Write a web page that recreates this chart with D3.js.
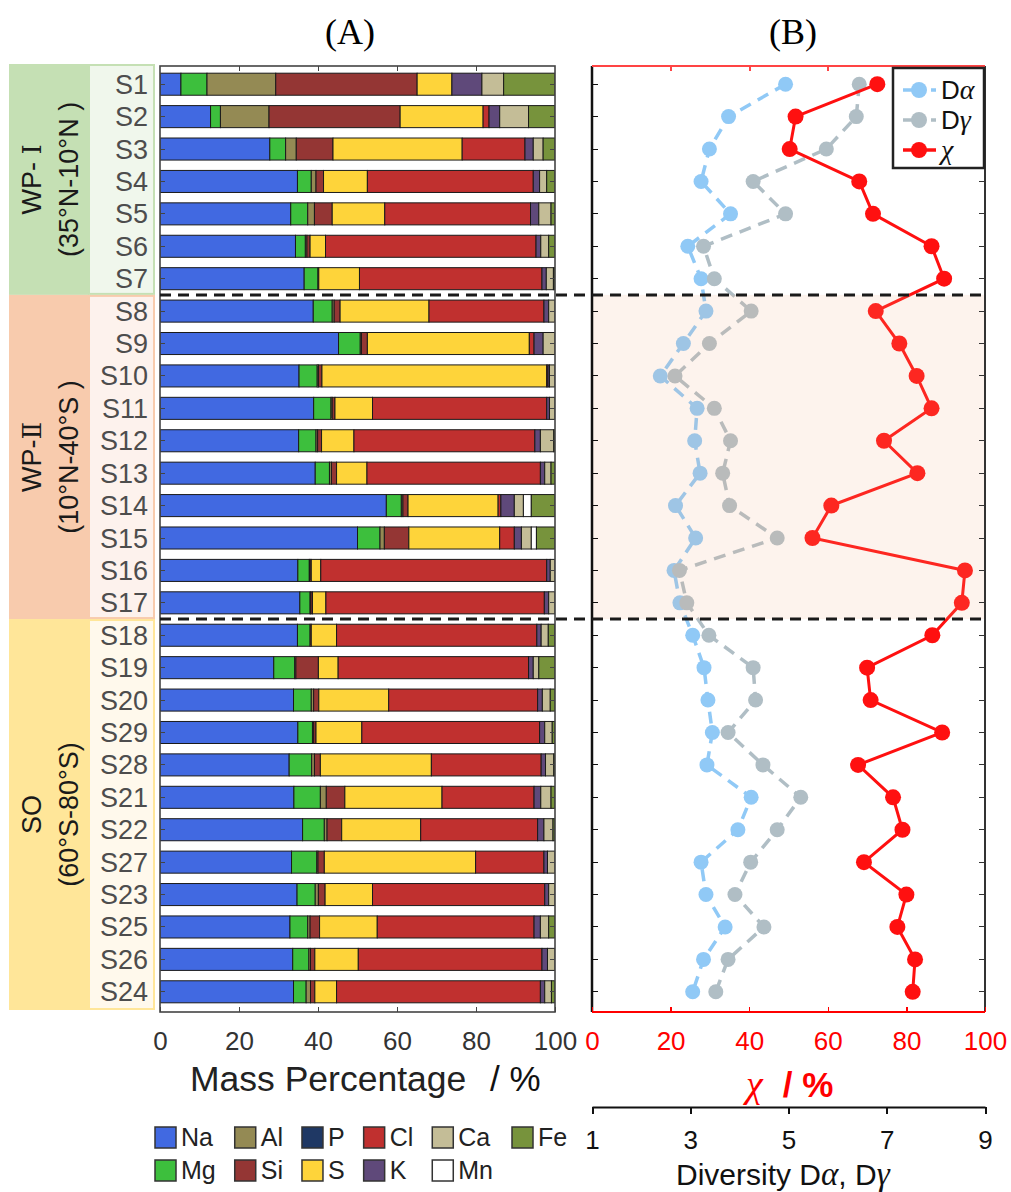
<!DOCTYPE html>
<html lang="en">
<head>
<meta charset="UTF-8">
<title>Mass percentage and diversity</title>
<script src="https://d3js.org/d3.v7.min.js"></script>
<style>
body{margin:0;background:#fff;}
svg{display:block;font-family:"Liberation Sans",Arial,sans-serif;}
.serif{font-family:"Liberation Serif","Times New Roman",serif;}
.roman{font-family:"DejaVu Serif","Noto Sans CJK SC",serif;}
.tick line{shape-rendering:crispEdges;}
</style>
</head>
<body>
<svg id="chart" width="1011" height="1192"></svg>
<script>
// sample order, top to bottom
const samples = ["S1","S2","S3","S4","S5","S6","S7","S8","S9","S10","S11","S12","S13","S14","S15","S16","S17",
  "S18","S19","S20","S29","S28","S21","S22","S27","S23","S25","S26","S24"];

const regionNames = ["WP- ","WP-","SO"];
const regionNumerals = ["Ⅰ","Ⅱ",""];
const regionSubs = ["(35°N-10°N )","(10°N-40°S )","(60°S-80°S)"];
const regionFirst = ["S1","S8","S18"];
const regionLast = ["S7","S17","S24"];

// stacking order (legend is column-major in the same order)
const elements = ["Na","Mg","Al","Si","P","S","Cl","K","Ca","Mn","Fe"];

// mass percentage per element, one value per sample
const Na = [5.3,12.8,27.8,34.8,33.1,34.3,36.5, 38.8,45.2,35.2,38.9,35.1,39.3,57.3,50.0,34.9,35.4, 34.8,28.8,33.8,34.9,32.7,33.9,36.1,33.3,34.7,32.9,33.6,33.8];
const Mg = [6.6,2.5,4.0,3.5,4.3,2.5,3.5, 4.8,5.5,4.6,4.4,4.4,3.6,3.8,5.7,2.9,2.6, 3.2,5.3,4.5,3.7,5.7,6.7,5.5,6.4,4.6,4.5,4.1,3.2];
const Al = [17.4,12.3,2.7,1.2,1.7,0.4,0, 0.5,0.3,0.3,0.3,0.4,0.5,0.4,1.1,0.2,0.2, 0,0.3,0.6,0.3,0.7,1.5,0.7,0.3,0.8,0.6,0.4,1.1];
const Si = [35.8,33.2,9.3,1.9,4.5,0.8,0.2, 1.5,1.5,0.9,0.7,1.0,1.3,1.3,6.2,0.3,0.4, 0.3,5.7,1.3,0.6,1.5,4.7,3.7,1.6,1.7,2.4,1.1,1.1];
const P  = [0,0,0,0,0,0,0, 0,0,0,0,0,0,0,0,0,0, 0,0,0,0,0,0,0,0,0,0,0,0];
const S  = [8.8,21.0,32.7,11.1,13.3,3.9,10.3, 22.5,41.0,56.9,9.5,8.2,7.7,22.8,23.0,2.4,3.4, 6.4,5.0,17.7,11.6,28.1,24.6,20.0,38.3,12.0,14.6,11.0,5.5];
const Cl = [0,1.5,15.9,42.0,36.9,53.3,46.2, 29.1,1.2,0.3,44.1,45.8,43.9,0.7,3.7,57.2,55.3, 50.7,48.2,37.7,45.0,27.8,23.3,29.6,17.3,43.6,39.7,46.5,51.6];
const K  = [7.6,2.7,2.1,1.6,2.1,1.2,1.1, 1.2,2.3,0.4,0.7,1.4,1.1,3.4,1.8,0.9,1.1, 1.1,1.2,1.2,1.3,1.1,1.7,1.6,0.9,1.0,1.6,1.4,1.1];
const Ca = [5.5,7.3,2.5,1.8,3.1,2.0,1.8, 1.6,3.0,1.4,1.4,3.4,1.6,2.3,2.5,1.2,1.6, 1.8,1.4,2.0,1.9,2.1,2.6,2.3,1.9,1.6,2.1,1.9,1.7];
const Mn = [0,0,0,0,0,0,0, 0,0,0,0,0,0,2.0,1.3,0,0, 0,0,0,0,0,0,0,0,0,0,0,0];
const Fe = [13.0,6.7,3.0,2.1,1.0,1.6,0.4, 0,0,0,0,0.3,1.0,6.0,4.7,0,0, 1.6,4.1,1.2,0.7,0.3,1.0,0.5,0,0,1.6,0,0.9];

// panel B
const dAlpha = [4.94,3.78,3.39,3.22,3.82,2.95,3.22, 3.32,2.86,2.39,3.14,3.09,3.20,2.70,3.11,2.67,2.79, 3.05,3.28,3.36,3.45,3.34,4.24,3.97,3.22,3.32,3.71,3.27,3.05];
const dGamma = [6.44,6.38,5.77,4.28,4.94,3.27,3.49, 4.24,3.39,2.69,3.49,3.82,3.66,3.80,4.77,2.78,2.93, 3.38,4.28,4.33,3.77,4.48,5.25,4.77,4.23,3.91,4.50,3.77,3.52];
const chi = [72.6,51.8,50.3,68.0,71.5,86.4,89.6, 72.2,78.2,82.6,86.4,74.3,82.8,60.9,56.1,94.9,94.1, 86.6,70.0,70.9,89.1,67.7,76.6,79.0,69.2,80.0,77.7,82.2,81.6];

const pctTicks = [0,20,40,60,80,100];
const divTicks = [1,3,5,7,9];

// styles
const elementColors = {Na:"#4169e1",Mg:"#3dbf3d",Al:"#948a54",Si:"#943634",P:"#1f3864",S:"#fed43a",
  Cl:"#c0302f",K:"#5f497a",Ca:"#c4bd97",Mn:"#ffffff",Fe:"#77933c"};
const regionBg = ["#c5e0b4","#f8cbad","#ffe699"];
const regionLight = ["#f0f7ec","#fdf2ed","#fff9ec"];
const colAlpha = "#90c9f6", colGamma = "#b0bec5", colChi = "#ff1010";

const svg = d3.select("#chart");
const series = {Na,Mg,Al,Si,P,S,Cl,K,Ca,Mn,Fe};
const rows = samples.map((s,i)=>{
  const r = {sample:s};
  elements.forEach(e=>r[e]=series[e][i]);
  return r;
});

const y = d3.scaleBand().domain(samples).range([68,1008]).paddingInner(0.32).paddingOuter(0.16);
const bw = y.bandwidth();
const yc = s => y(s)+bw/2;
const xA = d3.scaleLinear().domain([0,100]).range([160,555]);
const xChi = d3.scaleLinear().domain([0,100]).range([592,985]);
const xD = d3.scaleLinear().domain([1,9]).range([592,985]);
const yTop = 66, yBot = 1012;

// titles
svg.append("text").attr("class","serif").attr("x",350).attr("y",44).attr("text-anchor","middle")
  .attr("font-size",36).text("(A)");
svg.append("text").attr("class","serif").attr("x",793).attr("y",44).attr("text-anchor","middle")
  .attr("font-size",36).text("(B)");

// region label columns
const bounds = regionFirst.map((f,i)=>{
  const t = i===0 ? 64 : (yc(regionLast[i-1])+yc(f))/2;
  const b = i===regionFirst.length-1 ? 1010 : (yc(regionLast[i])+yc(regionFirst[i+1]))/2;
  return [t,b];
});
const regG = svg.append("g");
bounds.forEach(([t,b],i)=>{
  regG.append("rect").attr("x",9).attr("y",t).attr("width",80).attr("height",b-t).attr("fill",regionBg[i]);
  regG.append("rect").attr("x",89).attr("y",t+1).attr("width",65).attr("height",b-t-2)
    .attr("fill",regionLight[i]).attr("stroke",regionBg[i]).attr("stroke-width",2);
  const cy = (t+b)/2;
  const nm = regG.append("text").attr("transform",`translate(41,${cy}) rotate(-90)`).attr("text-anchor","middle")
    .attr("font-size",27).attr("fill","#1a1a1a");
  nm.append("tspan").text(regionNames[i]);
  if (regionNumerals[i]) nm.append("tspan").attr("class","roman").attr("font-size",26).text(regionNumerals[i]);
  regG.append("text").attr("transform",`translate(78,${cy}) rotate(-90)`).attr("text-anchor","middle")
    .attr("font-size",27).attr("fill","#1a1a1a").text(regionSubs[i]);
});
regG.selectAll("text.samp").data(samples).join("text").attr("class","samp")
  .attr("x",148).attr("y",d=>yc(d)+9.5).attr("text-anchor","end")
  .attr("font-size",27).attr("fill","#4d4d4d").text(d=>d);

// panel A bars
svg.append("clipPath").attr("id","clipA").append("rect")
  .attr("x",160).attr("y",yTop).attr("width",395).attr("height",yBot-yTop);
const stacked = d3.stack().keys(elements)(rows);
svg.append("g").attr("clip-path","url(#clipA)")
  .selectAll("g").data(stacked).join("g").attr("fill",d=>elementColors[d.key])
  .selectAll("rect").data(d=>d.filter(v=>v[1]-v[0]>0)).join("rect")
  .attr("x",v=>xA(v[0])).attr("y",v=>y(v.data.sample))
  .attr("width",v=>xA(v[1])-xA(v[0])).attr("height",bw)
  .attr("stroke","#1a1a1a").attr("stroke-width",1);

// panel A frame and ticks
const gA = svg.append("g").attr("color","#444");
gA.append("rect").attr("x",160).attr("y",yTop).attr("width",395).attr("height",yBot-yTop)
  .attr("fill","none").attr("stroke","#444").attr("stroke-width",1.6);
const axA = gA.append("g").attr("transform",`translate(0,${yBot})`)
  .call(d3.axisBottom(xA).tickValues(pctTicks).tickSizeInner(-5).tickSizeOuter(0));
axA.select(".domain").remove();
axA.selectAll("text").attr("y",38).attr("dy",0).attr("font-size",26).attr("fill","#333")
  .attr("font-family","Liberation Sans, Arial, sans-serif");
gA.append("g").attr("transform",`translate(0,${yTop})`)
  .call(d3.axisTop(xA).tickValues([20,40,60,80]).tickSize(-5).tickFormat(""))
  .select(".domain").remove();
gA.append("g").attr("transform","translate(160,0)")
  .call(d3.axisLeft(y).tickSize(-5).tickFormat("")).select(".domain").remove();
gA.append("g").attr("transform","translate(555,0)")
  .call(d3.axisRight(y).tickSize(-5).tickFormat("")).select(".domain").remove();

svg.append("text").attr("x",190).attr("y",1091).attr("font-size",35.5).attr("fill","#222").text("Mass Percentage");
svg.append("text").attr("x",490).attr("y",1091).attr("font-size",35).attr("fill","#111").text("/ %");

// legend A (column-major, two rows)
const legA = svg.append("g");
let lx = 155;
for (let c=0; c*2<elements.length; c++) {
  const col = elements.slice(c*2, c*2+2);
  let maxW = 0;
  col.forEach((e,r)=>{
    const ly = 1127 + r*33;
    legA.append("rect").attr("x",lx).attr("y",ly).attr("width",21).attr("height",21)
      .attr("fill",elementColors[e]).attr("stroke","#333").attr("stroke-width",1.5);
    const t = legA.append("text").attr("x",lx+26).attr("y",ly+19).attr("font-size",25).attr("fill","#222").text(e);
    maxW = Math.max(maxW, t.node().getComputedTextLength());
  });
  lx += 26 + maxW + 19;
}

// panel B
const gB = svg.append("g");
function seriesLine(vals, xs){
  return d3.line().x(d=>xs(d)).y((d,i)=>yc(samples[i]))(vals);
}
gB.append("path").attr("d",seriesLine(dAlpha,xD)).attr("fill","none").attr("stroke",colAlpha)
  .attr("stroke-width",3.5).attr("stroke-dasharray","12,8");
gB.selectAll("circle.a").data(dAlpha).join("circle").attr("class","a")
  .attr("cx",d=>xD(d)).attr("cy",(d,i)=>yc(samples[i])).attr("r",7.5).attr("fill",colAlpha);
gB.append("path").attr("d",seriesLine(dGamma,xD)).attr("fill","none").attr("stroke",colGamma)
  .attr("stroke-width",3.5).attr("stroke-dasharray","12,8");
gB.selectAll("circle.g").data(dGamma).join("circle").attr("class","g")
  .attr("cx",d=>xD(d)).attr("cy",(d,i)=>yc(samples[i])).attr("r",7.5).attr("fill",colGamma);
gB.append("path").attr("d",seriesLine(chi,xChi)).attr("fill","none").attr("stroke",colChi)
  .attr("stroke-width",3);
gB.selectAll("circle.c").data(chi).join("circle").attr("class","c")
  .attr("cx",d=>xChi(d)).attr("cy",(d,i)=>yc(samples[i])).attr("r",8).attr("fill",colChi);

// WP-II shading over panel B
gB.append("rect").attr("x",592).attr("y",bounds[1][0]).attr("width",393).attr("height",bounds[1][1]-bounds[1][0])
  .attr("fill","#f4b183").attr("opacity",0.15);

// panel B frame
gB.append("g").attr("transform","translate(592,0)").attr("color","#111")
  .call(d3.axisLeft(y).tickSize(-6).tickFormat("")).select(".domain").remove();
gB.append("g").attr("transform","translate(985,0)").attr("color","#333")
  .call(d3.axisRight(y).tickSize(-6).tickFormat("")).select(".domain").remove();
gB.append("line").attr("x1",592).attr("x2",592).attr("y1",yTop).attr("y2",yBot).attr("stroke","#111").attr("stroke-width",2.5);
gB.append("line").attr("x1",985).attr("x2",985).attr("y1",yTop).attr("y2",yBot).attr("stroke","#333").attr("stroke-width",2);
const topChi = gB.append("g").attr("transform",`translate(0,${yTop})`).attr("color","#f44")
  .call(d3.axisTop(xChi).tickValues([20,40,60,80]).tickSize(-5).tickFormat(""));
topChi.select(".domain").remove();
topChi.selectAll("line").attr("stroke-width",2);
gB.append("line").attr("x1",592).attr("x2",985).attr("y1",yTop).attr("y2",yTop).attr("stroke","#f44").attr("stroke-width",2);
const botChi = gB.append("g").attr("transform",`translate(0,${yBot})`).attr("color","#f00")
  .call(d3.axisBottom(xChi).tickValues(pctTicks).tickSizeInner(-5).tickSizeOuter(0));
botChi.select(".domain").remove();
botChi.selectAll("line").attr("stroke-width",1.5);
botChi.selectAll("text").attr("y",38).attr("dy",0).attr("font-size",26).attr("fill","#f00")
  .attr("font-family","Liberation Sans, Arial, sans-serif");
gB.append("line").attr("x1",592).attr("x2",985).attr("y1",yBot).attr("y2",yBot).attr("stroke","#f00").attr("stroke-width",2);

const chiLab = svg.append("text").attr("x",746).attr("y",1097).attr("fill","#f00").attr("font-size",35);
chiLab.append("tspan").attr("class","serif").attr("font-style","italic").attr("font-size",38).text("χ");
chiLab.append("tspan").attr("dx",20).attr("font-weight","bold").text("/ %");

// diversity axis
const divAx = svg.append("g").attr("transform","translate(0,1107)").attr("color","#111")
  .call(d3.axisBottom(xD).tickValues(divTicks).tickSizeInner(7).tickSizeOuter(0));
divAx.select(".domain").attr("stroke-width",2);
divAx.selectAll("line").attr("stroke-width",2);
divAx.selectAll("text").attr("y",42).attr("dy",0).attr("font-size",26).attr("fill","#111")
  .attr("font-family","Liberation Sans, Arial, sans-serif");
const divLab = svg.append("text").attr("x",676).attr("y",1185).attr("font-size",30).attr("fill","#111");
divLab.append("tspan").text("Diversity D");
divLab.append("tspan").attr("class","serif").attr("font-style","italic").attr("font-size",33).text("α");
divLab.append("tspan").text(", D");
divLab.append("tspan").attr("class","serif").attr("font-style","italic").attr("font-size",33).text("γ");

// legend B
const legB = svg.append("g");
legB.append("rect").attr("x",893).attr("y",68).attr("width",91).attr("height",100)
  .attr("fill","#fff").attr("stroke","#222").attr("stroke-width",2.5);
const legItems = [["D","α",colAlpha,"12,8"],["D","γ",colGamma,"12,8"],["","χ",colChi,null]];
legItems.forEach(([a,g,c,dash],i)=>{
  const ly = 90 + i*30;
  legB.append("line").attr("x1",903).attr("x2",936).attr("y1",ly).attr("y2",ly)
    .attr("stroke",c).attr("stroke-width",3.5).attr("stroke-dasharray",dash ? "9,5" : null);
  legB.append("circle").attr("cx",919).attr("cy",ly).attr("r",8).attr("fill",c);
  const t = legB.append("text").attr("x",941).attr("y",ly+9).attr("font-size",26).attr("fill","#111");
  if (a) t.append("tspan").text(a);
  t.append("tspan").attr("class","serif").attr("font-style","italic").attr("font-size",28).text(g);
});

// region separators
[bounds[0][1], bounds[1][1]].forEach(yy=>{
  svg.append("line").attr("x1",160).attr("x2",985).attr("y1",yy).attr("y2",yy)
    .attr("stroke","#1a1a1a").attr("stroke-width",3).attr("stroke-dasharray","11,7");
});
</script>
</body>
</html>
